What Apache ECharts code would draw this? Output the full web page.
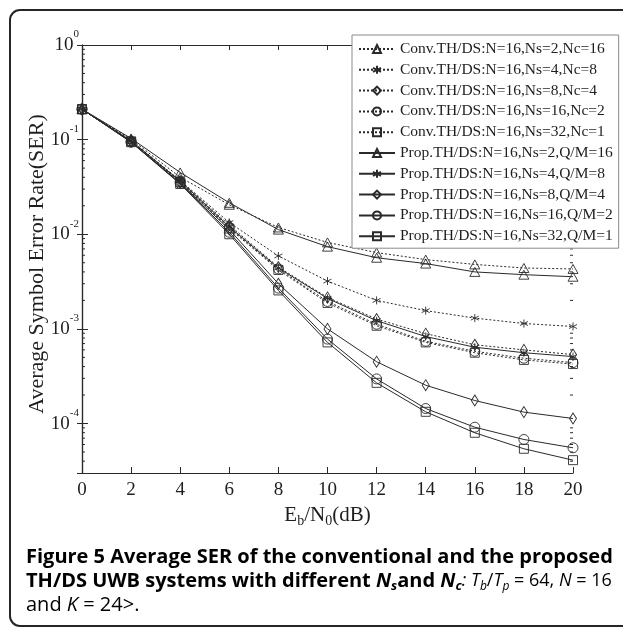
<!DOCTYPE html>
<html>
<head>
<meta charset="utf-8">
<script src="https://cdn.jsdelivr.net/npm/echarts@6/dist/echarts.min.js"></script>
<style>
  html, body { margin: 0; padding: 0; background: #fff; }
  #ser-chart { width: 623px; height: 628px; }
</style>
</head>
<body>
<div id="ser-chart"></div>
<script>
// Eb/N0 points (dB)
var ebn0 = [0, 2, 4, 6, 8, 10, 12, 14, 16, 18, 20];

// conventional TH/DS (dotted)
var convNs2 = [0.21, 0.101, 0.040, 0.0205, 0.0118, 0.0082, 0.0064, 0.0054, 0.0048, 0.0044, 0.0043];
var convNs4 = [0.21, 0.098, 0.037, 0.0133, 0.0059, 0.0032, 0.0020, 0.00156, 0.0013, 0.00114, 0.00106];
var convNs8 = [0.21, 0.097, 0.0365, 0.0125, 0.0045, 0.00215, 0.00127, 0.00089, 0.00068, 0.00060, 0.000535];
var convNs16 = [0.21, 0.096, 0.036, 0.0118, 0.0043, 0.00195, 0.00112, 0.00074, 0.00058, 0.00049, 0.00044];
var convNs32 = [0.21, 0.096, 0.0355, 0.0115, 0.0042, 0.00188, 0.00108, 0.00072, 0.00056, 0.00047, 0.000425];

// proposed TH/DS (solid)
var propNs2 = [0.21, 0.103, 0.045, 0.0215, 0.0112, 0.0074, 0.00565, 0.0049, 0.0040, 0.00374, 0.00356];
var propNs4 = [0.21, 0.097, 0.0365, 0.0120, 0.0044, 0.0021, 0.00122, 0.00083, 0.00064, 0.00056, 0.00051];
var propNs8 = [0.21, 0.095, 0.035, 0.0112, 0.0030, 0.00100, 0.00045, 0.000254, 0.000175, 0.000132, 0.000113];
var propNs16 = [0.21, 0.094, 0.0345, 0.0105, 0.0027, 0.00078, 0.000296, 0.000144, 0.0000914, 0.0000678, 0.0000554];
var propNs32 = [0.21, 0.094, 0.034, 0.0100, 0.00255, 0.00072, 0.000269, 0.000133, 0.0000798, 0.0000541, 0.000041];

var names = [
  'Conv.TH/DS:N=16,Ns=2,Nc=16', 'Conv.TH/DS:N=16,Ns=4,Nc=8', 'Conv.TH/DS:N=16,Ns=8,Nc=4',
  'Conv.TH/DS:N=16,Ns=16,Nc=2', 'Conv.TH/DS:N=16,Ns=32,Nc=1',
  'Prop.TH/DS:N=16,Ns=2,Q/M=16', 'Prop.TH/DS:N=16,Ns=4,Q/M=8', 'Prop.TH/DS:N=16,Ns=8,Q/M=4',
  'Prop.TH/DS:N=16,Ns=16,Q/M=2', 'Prop.TH/DS:N=16,Ns=32,Q/M=1'
];
var values = [convNs2, convNs4, convNs8, convNs16, convNs32, propNs2, propNs4, propNs8, propNs16, propNs32];

// minor ticks of the log axis (2..9 in each decade)
var minorMult = [2, 3, 4, 5, 6, 7, 8, 9];
var decades = [1e-5, 1e-4, 1e-3, 1e-2, 1e-1];
var yMin = 3e-5;

var serif = 'Liberation Serif';
var ink = '#2a2a2a';
var star = 'path://M5,0L5,10M0.7,2.5L9.3,7.5M0.7,7.5L9.3,2.5';
var marks = ['triangle', star, 'diamond', 'circle', 'rect'];
var markSize = [[10, 9], 8, [7, 11], 10, 9];

var minorTicks = [];
decades.forEach(function (d) {
  minorMult.forEach(function (m) {
    var v = +(m * d).toPrecision(3);
    if (v > yMin && v < 1) minorTicks.push([0, v]);
  });
});

var series = values.map(function (arr, i) {
  var k = i % 5;
  return {
    name: names[i],
    type: 'line',
    data: arr.map(function (v, j) { return [ebn0[j], v]; }),
    symbol: marks[k],
    symbolSize: markSize[k],
    lineStyle: { color: ink, width: 1, type: i < 5 ? [2, 2] : 'solid' },
    itemStyle: { color: 'rgba(0,0,0,0)', borderColor: ink, borderWidth: 0.9 },
    emphasis: { disabled: true },
    animation: false
  };
});

series.push({
  type: 'custom',
  silent: true,
  animation: false,
  data: minorTicks,
  renderItem: function (params, api) {
    var v = api.value(1);
    var l = api.coord([0, v]);
    var r = api.coord([20, v]);
    return {
      type: 'group',
      children: [
        { type: 'line', shape: { x1: l[0], y1: l[1], x2: l[0] + 3, y2: l[1] }, style: { stroke: ink, lineWidth: 1 } },
        { type: 'line', shape: { x1: r[0] - 3, y1: r[1], x2: r[0], y2: r[1] }, style: { stroke: ink, lineWidth: 1 } }
      ]
    };
  }
});

var axLine = { show: true, lineStyle: { color: ink, width: 1.2 } };

var capB = { fontFamily: 'Open Sans', fontWeight: 'bold', fontSize: 20, color: '#1c1c1c', lineHeight: 24 };
var capN = { fontFamily: 'Open Sans', fontSize: 20, color: '#3c3c3c', lineHeight: 24 };
var capN2 = { fontFamily: 'Open Sans', fontSize: 18, color: '#444', lineHeight: 24 };
var capI2 = { fontFamily: 'Open Sans', fontStyle: 'italic', fontSize: 18, color: '#444', lineHeight: 24 };
var capS2 = { fontFamily: 'Open Sans', fontStyle: 'italic', fontSize: 12, color: '#444', lineHeight: 15, verticalAlign: 'bottom' };

var myChart = echarts.init(document.getElementById('ser-chart'));
var option = {
  backgroundColor: '#fff',
  animation: false,
  grid: { left: 82, top: 45, width: 491, height: 428 },
  legend: {
    data: names,
    orient: 'vertical',
    left: 352,
    top: 35,
    padding: [6, 6, 4, 6],
    itemWidth: 36,
    itemHeight: 10,
    itemGap: 4.8,
    backgroundColor: '#fff',
    borderColor: '#8a8a8a',
    borderWidth: 1,
    borderRadius: 0,
    selectedMode: false,
    textStyle: { fontFamily: serif, fontSize: 15.5, lineHeight: 14, color: '#1e1e1e' },
    z: 10
  },
  xAxis: [{
    type: 'value', min: 0, max: 20, interval: 2,
    axisLine: axLine,
    axisTick: { inside: true, length: 6, lineStyle: { color: ink } },
    splitLine: { show: false },
    axisLabel: { margin: 8, fontFamily: serif, fontSize: 19, color: '#1e1e1e' },
    name: '{a|E}{s|b}{a|/N}{s|0}{a|(dB)}',
    nameLocation: 'middle',
    nameGap: 25,
    nameTextStyle: {
      rich: {
        a: { fontFamily: serif, fontSize: 21, color: '#1e1e1e', lineHeight: 26 },
        s: { fontFamily: serif, fontSize: 14, color: '#1e1e1e', lineHeight: 14, verticalAlign: 'bottom' }
      }
    }
  }, {
    type: 'value', min: 0, max: 20, interval: 2, position: 'top',
    axisLine: axLine,
    axisTick: { inside: true, length: 5, lineStyle: { color: ink } },
    splitLine: { show: false },
    axisLabel: { show: false }
  }],
  yAxis: [{
    type: 'log', logBase: 10, min: yMin, max: 1,
    axisLine: axLine,
    axisTick: { inside: true, length: 6, lineStyle: { color: ink } },
    splitLine: { show: false },
    axisLabel: {
      margin: 3,
      showMinLabel: false,
      formatter: function (v) {
        return '{b|10}{e|' + Math.round(Math.log10(v)) + '}';
      },
      rich: {
        b: { fontFamily: serif, fontSize: 19, color: '#1e1e1e', lineHeight: 32 },
        e: { fontFamily: serif, fontSize: 11, color: '#1e1e1e', lineHeight: 11, verticalAlign: 'top' }
      }
    },
    name: 'Average Symbol Error Rate(SER)',
    nameLocation: 'middle',
    nameRotate: 90,
    nameGap: 34,
    nameMoveOverlap: false,
    nameTextStyle: { fontFamily: serif, fontSize: 22, color: '#1e1e1e', padding: [0, 10, 0, 0] }
  }, {
    type: 'log', logBase: 10, min: yMin, max: 1, position: 'right',
    axisLine: axLine,
    axisTick: { inside: true, length: 5, lineStyle: { color: ink } },
    splitLine: { show: false },
    axisLabel: { show: false }
  }],
  graphic: [{
    type: 'rect',
    shape: { x: 10, y: 10, width: 660, height: 616, r: 10 },
    style: { fill: 'none', stroke: '#262626', lineWidth: 2 },
    z: -1
  }, {
    type: 'text', left: 26, top: 547,
    style: {
      text: '{b|Figure 5 Average SER of the conventional and the proposed}',
      rich: { b: capB }
    }
  }, {
    type: 'text', left: 26, top: 571,
    style: {
      text: '{b|TH/DS UWB systems with different }{bi|N}{bs|s}{b|and }{bi|N}{bs|c}{i|: T}{is|b}{n|/}{i|T}{is|p}{n| = 64, }{i|N}{n| = 16}',
      rich: {
        b: capB,
        bi: { fontFamily: 'Open Sans', fontWeight: 'bold', fontStyle: 'italic', fontSize: 20, color: '#1c1c1c', lineHeight: 24 },
        bs: { fontFamily: 'Open Sans', fontWeight: 'bold', fontStyle: 'italic', fontSize: 13, color: '#1c1c1c', lineHeight: 15, verticalAlign: 'bottom' },
        n: capN2,
        i: capI2,
        is: capS2
      }
    }
  }, {
    type: 'text', left: 26, top: 595,
    style: {
      text: '{n|and }{i|K}{n| = 24>.}',
      rich: {
        n: capN,
        i: { fontFamily: 'Open Sans', fontStyle: 'italic', fontSize: 20, color: '#3c3c3c', lineHeight: 24 }
      }
    }
  }],
  series: series
};
myChart.setOption(option);
</script>
</body>
</html>
